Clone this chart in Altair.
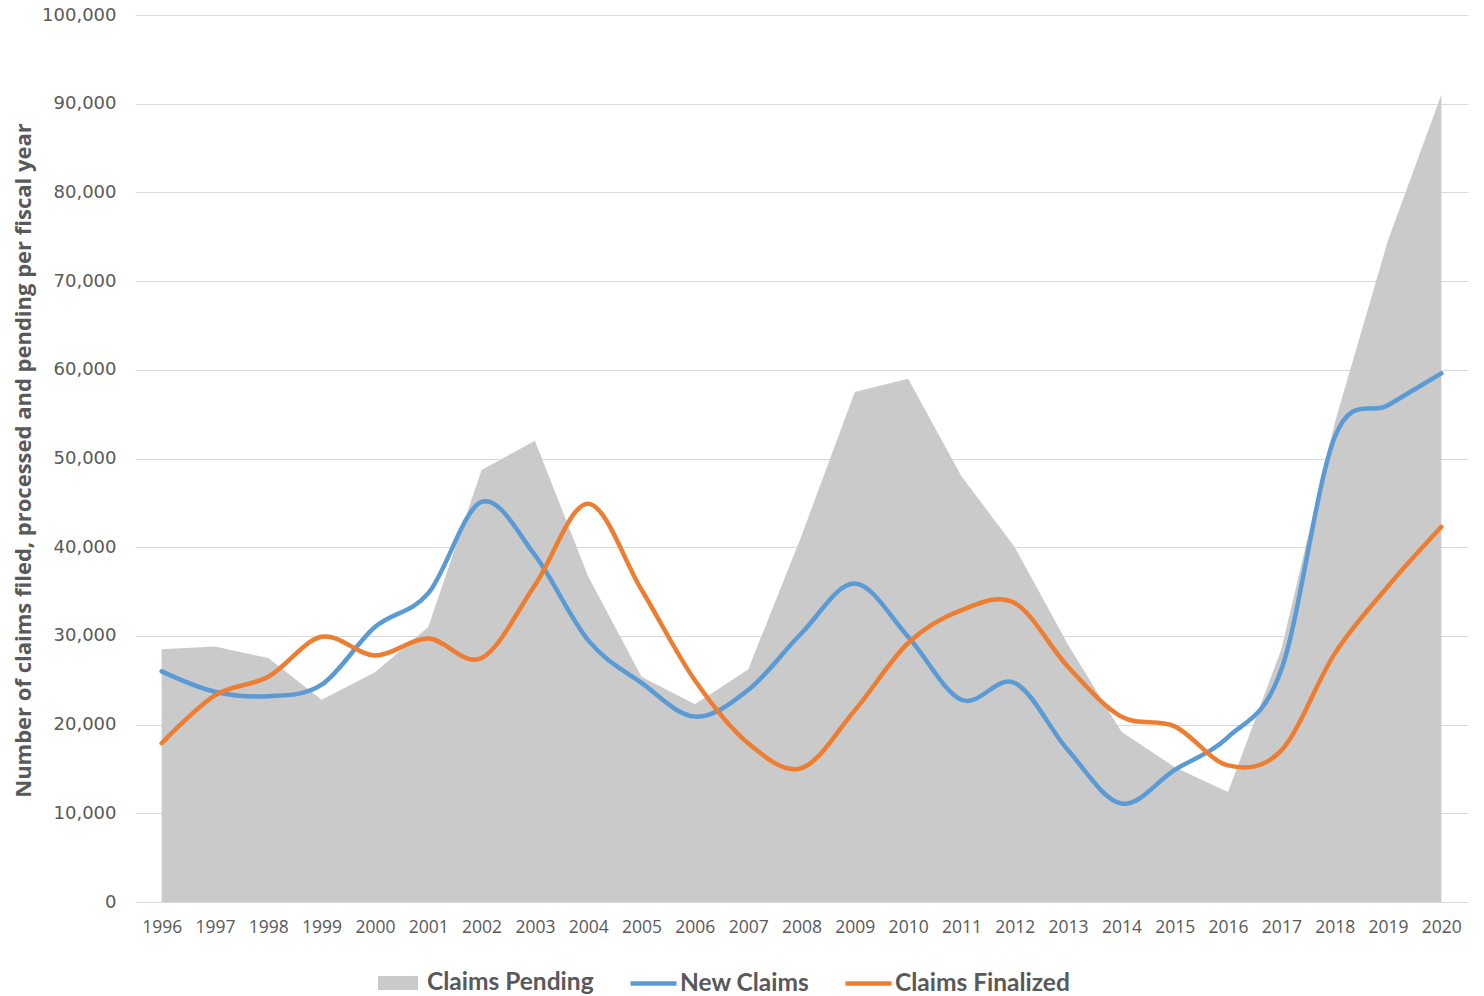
import altair as alt
import pandas as pd

years = list(range(1996, 2021))
pending = [28500, 28800, 27500, 22800, 25900, 31000, 48700, 52000, 36700, 25400,
           22300, 26200, 41300, 57500, 59000, 48000, 40000, 29000, 19200, 15200,
           12400, 28500, 54000, 74600, 91000]
new_claims = [26000, 23700, 23200, 24500, 31000, 34800, 45100, 39100, 29500, 24700,
              20900, 23900, 30300, 35900, 29900, 22800, 24700, 17100, 11100, 14900,
              18600, 26200, 52400, 56000, 59600]
finalized = [17900, 23300, 25400, 29900, 27800, 29700, 27500, 35700, 44900, 35200,
             25000, 17900, 15100, 21600, 29200, 32900, 33700, 26500, 20900, 19800,
             15400, 17100, 28000, 35600, 42300]

area_names = ["Claims Pending"]
area_colors = ["#cacaca"]
line_names = ["New Claims", "Claims Finalized"]
line_colors = ["#5b9bd5", "#ed7d31"]

area_df = pd.DataFrame({"year": years, "value": pending, "series": area_names[0]})
line_df = pd.concat([
    pd.DataFrame({"year": years, "value": new_claims, "series": line_names[0]}),
    pd.DataFrame({"year": years, "value": finalized, "series": line_names[1]}),
])

LBL = "#595959"
legend_common = dict(
    title=None, orient="none", direction="horizontal", padding=0,
    symbolSize=2116, labelFont="Lato", labelFontWeight="bold",
    labelFontSize=24.5, labelColor=LBL, symbolOpacity=1, labelLimit=500,
)

fill = alt.Fill(
    "series:N",
    scale=alt.Scale(domain=area_names, range=area_colors),
    legend=alt.Legend(
        legendX=240, legendY=945, labelOffset=6, columnPadding=26,
        symbolType="M-0.87,-0.3L0.87,-0.3L0.87,0.3L-0.87,0.3Z",
        symbolStrokeWidth=0,
        **legend_common,
    ),
)
stroke = alt.Stroke(
    "series:N",
    scale=alt.Scale(domain=line_names, range=line_colors),
    legend=alt.Legend(
        legendX=493, legendY=943, labelOffset=1, columnPadding=26,
        symbolType="M-1,0L1,0",
        symbolStrokeWidth=4.5,
        **legend_common,
    ),
)

x = alt.X(
    "year:Q",
    scale=alt.Scale(domain=[1995.5, 2020.5], nice=False, zero=False),
    axis=alt.Axis(
        values=years, format="d", title=None, grid=False, ticks=False,
        domain=False, labelFont="Open Sans", labelFontSize=17.5,
        labelColor=LBL, labelPadding=16,
    ),
)
y = alt.Y(
    "value:Q",
    scale=alt.Scale(domain=[0, 100000], nice=False),
    axis=alt.Axis(
        values=list(range(0, 100001, 10000)), format=",.0f",
        title="Number of claims filed, processed and pending per fiscal year",
        titleFont="Open Sans", titleFontWeight="bold", titleFontSize=22,
        titleColor=LBL, titleAngle=270, titleX=-105, titleY=445,
        titleAlign="center", titleBaseline="alphabetic",
        labelFont="DejaVu Sans", labelFontSize=18, labelColor=LBL,
        labelPadding=19, ticks=False, domain=False,
        gridColor="#d9d9d9", gridWidth=1.2,
    ),
)

area = alt.Chart(area_df).mark_area(opacity=1).encode(x=x, y=y, fill=fill)
lines = alt.Chart(line_df).mark_line(
    strokeWidth=4.5, interpolate="cardinal", strokeCap="round"
).encode(x=x, y=y, stroke=stroke, detail="series:N")

chart = alt.layer(area, lines).properties(
    width=1333, height=887,
    autosize=alt.AutoSizeParams(type="none"),
    padding={"left": 135, "top": 15, "right": 16, "bottom": 94},
    background="white",
).configure_view(stroke=None)

chart.save("out.html", embed_options={"renderer": "svg", "actions": False})
